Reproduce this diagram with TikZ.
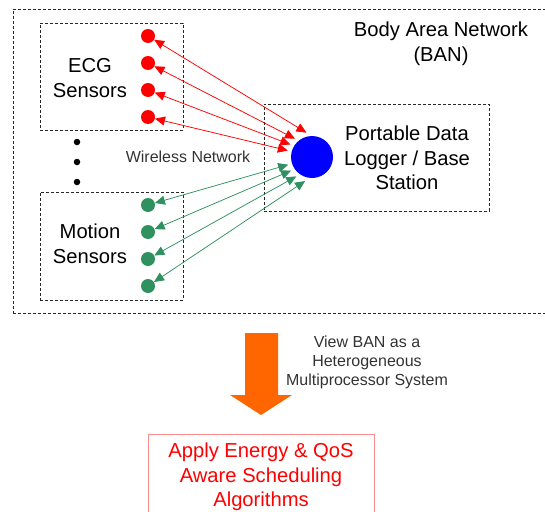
\documentclass[tikz,border=0pt]{standalone}
\usepackage{fontspec}
\setmainfont{Liberation Sans}
\usepackage{tikz}
\usetikzlibrary{positioning,arrows.meta}

\definecolor{ecgred}{RGB}{255,0,0}
\definecolor{motiongreen}{RGB}{46,145,95}
\definecolor{viewarrow}{RGB}{255,102,0}

\begin{document}
\begin{tikzpicture}[x=1pt, y=-1pt,
	frame/.style={draw=black!85, dash pattern=on 3pt off 2pt, line width=0.7pt, inner sep=0pt},
	sensor/.style={circle, fill=#1, inner sep=0pt, minimum size=14pt},
	radiolink/.style={draw=#1, line width=0.75pt, {Triangle[length=10pt,width=9pt]}-{Triangle[length=10pt,width=9pt]}},
	bigtext/.style={align=center, font=\fontsize{20.2}{24.5}\selectfont},
	smalltext/.style={align=center, font=\fontsize{16}{19}\selectfont, text=black!80}]
	\useasboundingbox (0,0) rectangle (545,511);

	% frames
	\node[frame, minimum width=537pt, minimum height=304pt] (ban) at (281.5,161) {};
	\node[frame, minimum width=143pt, minimum height=107pt] (ecgbox) at (111.5,76.5) {};
	\node[frame, minimum width=143pt, minimum height=108pt] (motionbox) at (111.5,246) {};
	\node[frame, minimum width=225pt, minimum height=107pt] (loggerbox) at (376.5,157.5) {};

	% labels
	\node[bigtext] (banlabel) at (441,44) {Body Area Network\\(BAN)};
	\node[bigtext] (ecglabel) at (90,78) {ECG\\Sensors};
	\node[bigtext] (motionlabel) at (90,244) {Motion\\Sensors};
	\node[bigtext] (loggerlabel) at (407,158) {Portable Data\\Logger / Base\\Station};
	\node[smalltext] (wireless) at (188,157) {Wireless Network};

	% sensors
	\node[sensor=ecgred] (ecga) at (148,36) {};
	\node[below of=ecga, node distance=27pt, sensor=ecgred] (ecgb) {};
	\node[below of=ecgb, node distance=27pt, sensor=ecgred] (ecgc) {};
	\node[below of=ecgc, node distance=27pt, sensor=ecgred] (ecgd) {};

	\node[sensor=motiongreen] (mota) at (148,205) {};
	\node[below of=mota, node distance=27pt, sensor=motiongreen] (motb) {};
	\node[below of=motb, node distance=27pt, sensor=motiongreen] (motc) {};
	\node[below of=motc, node distance=27pt, sensor=motiongreen] (motd) {};

	\node[circle, fill=black, inner sep=0pt, minimum size=6.5pt] (dota) at (77,142) {};
	\node[below of=dota, node distance=20pt, circle, fill=black, inner sep=0pt, minimum size=6.5pt] (dotb) {};
	\node[below of=dotb, node distance=20pt, circle, fill=black, inner sep=0pt, minimum size=6.5pt] (dotc) {};

	% base station
	\node[circle, fill=blue, inner sep=0pt, minimum size=42pt, outer sep=4pt] (hub) at (312,157) {};

	\path [radiolink=ecgred] (ecga) -- (hub.103);
	\path [radiolink=ecgred] (ecgb) -- (hub.133);
	\path [radiolink=ecgred] (ecgc) -- (hub.150);
	\path [radiolink=ecgred] (ecgd) -- (hub.165);
	\path [radiolink=motiongreen] (mota) -- (hub.198);
	\path [radiolink=motiongreen] (motb) -- (hub.213);
	\path [radiolink=motiongreen] (motc) -- (hub.231);
	\path [radiolink=motiongreen] (motd) -- (hub.254);

	% step to scheduling
	\fill[viewarrow] (245,333) -- (278,333) -- (278,395) -- (292,395) -- (261,415) -- (230,395) -- (245,395) -- cycle;
	\node[smalltext] (viewlabel) at (367,362) {View BAN as a\\Heterogeneous\\Multiprocessor System};

	\draw[red!45, line width=0.7pt] (148,520) -- (148,434) -- (374,434) -- (374,520);
	\node[bigtext, text=red] (sched) at (261,477) {Apply Energy \& QoS\\Aware Scheduling\\Algorithms};
\end{tikzpicture}
\end{document}
